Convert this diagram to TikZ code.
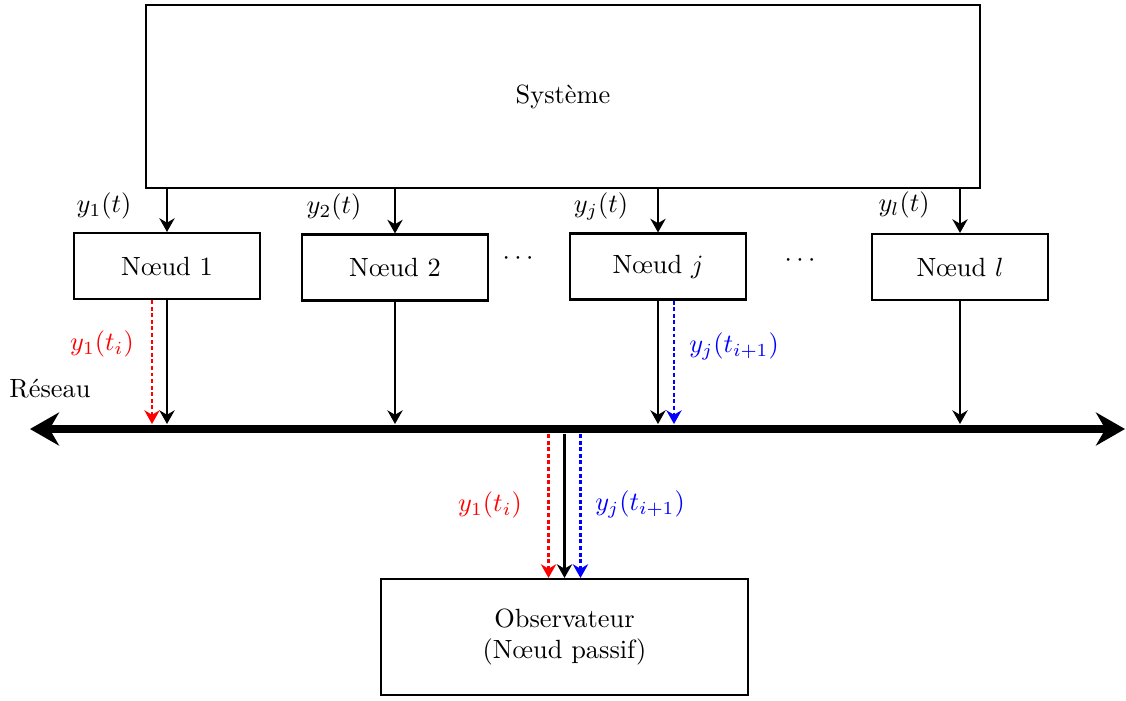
\documentclass[tikz,border=0pt]{standalone}
\usetikzlibrary{arrows.meta,calc}
\begin{document}
\begin{tikzpicture}[x=0.013333cm,y=-0.013333cm,
  box/.style={draw,thick,inner sep=0pt,align=center},
  arr/.style={thick,-{Stealth[length=5.2pt,width=5.8pt]}},
  dots/.style={thick,dash pattern=on 1.5pt off 1pt,-{Stealth[length=5.2pt,width=5.8pt]}},
  net/.style={line width=3.3pt,{Stealth[length=11pt,width=12.5pt]}-{Stealth[length=11pt,width=12.5pt]}},
  lbl/.style={inner sep=1pt}]
\useasboundingbox (0,0) rectangle (1126,700);
\node[box,minimum width=11.12cm,minimum height=2.44cm] (sys) at (563,96.5) {Système};
\node[box,minimum width=2.48cm,minimum height=0.88cm] (n1) at (167,266) {Nœud 1};
\node[box,minimum width=2.48cm,minimum height=0.88cm] (n2) at (395,267.5) {Nœud 2};
\node[box,minimum width=2.347cm,minimum height=0.88cm] (nj) at (658,266.5) {Nœud $j$};
\node[box,minimum width=2.347cm,minimum height=0.88cm] (nl) at (960,267) {Nœud $l$};
\node[box,minimum width=4.893cm,minimum height=1.547cm] (obs) at (564.5,637) {Observateur\\(Nœud passif)};
\node (d1) at (518,259) {$\cdots$};
\node (d2) at (800,261) {$\cdots$};
\node[lbl] (l1) at (104,206) {$y_1(t)$};
\node[lbl] (l2) at (334,207) {$y_2(t)$};
\node[lbl] (lj) at (601,206) {$y_j(t)$};
\node[lbl] (ll) at (904,205) {$y_l(t)$};
\node[lbl] (res) at (50,389) {Réseau};
\node[lbl,text=red] (r1) at (102,344) {$y_1(t_i)$};
\node[lbl,text=blue] (bj) at (734,346) {$y_j(t_{i+1})$};
\node[lbl,text=red] (r2) at (490,505) {$y_1(t_i)$};
\node[lbl,text=blue] (b2) at (640,504) {$y_j(t_{i+1})$};
\coordinate (netL) at (30,429);
\coordinate (netR) at (1125,429);
\coordinate (netT) at (0,424);
\coordinate (netB) at (0,434);
\draw[net] (netL) -- (netR);
\foreach \n in {n1,n2,nj,nl}{
  \draw[arr] (sys.south -| \n) -- (\n.north);
  \draw[arr] (\n.south) -- (\n.south |- netT);
}
\draw[dots,red] ([xshift=-0.2cm]n1.south) -- ([xshift=-0.2cm]n1.south |- netT);
\draw[dots,blue] ([xshift=0.213cm]nj.south) -- ([xshift=0.213cm]nj.south |- netT);
\draw[arr] (obs.north |- netB) -- (obs.north);
\draw[dots,red] ([xshift=-0.213cm]obs.north |- netB) -- ([xshift=-0.213cm]obs.north);
\draw[dots,blue] ([xshift=0.213cm]obs.north |- netB) -- ([xshift=0.213cm]obs.north);
\end{tikzpicture}
\end{document}
